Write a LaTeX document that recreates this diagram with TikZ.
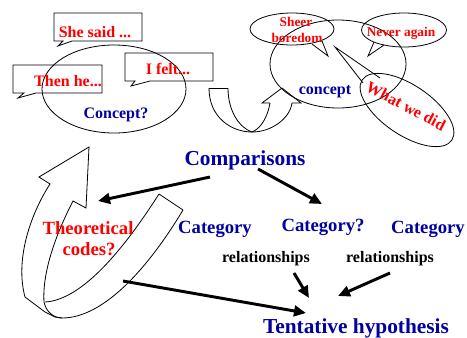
\documentclass[tikz,border=0pt]{standalone}
\usepackage{fontspec}
\setmainfont{Liberation Serif}
\usetikzlibrary{arrows.meta}
\definecolor{navy}{RGB}{0,0,160}

\begin{document}
\begin{tikzpicture}[x=0.75pt,y=-0.75pt,line width=0.6pt,
    redtxt/.style={text=red,inner sep=0pt,anchor=base},
    bluetxt/.style={text=navy,inner sep=0pt,anchor=base},
    blacktxt/.style={inner sep=0pt,anchor=base},
    big/.style={font=\bfseries\fontsize{16}{18}\selectfont},
    mid/.style={font=\bfseries\fontsize{14}{16}\selectfont},
    small/.style={font=\bfseries\fontsize{12}{14}\selectfont},
    tiny/.style={font=\bfseries\fontsize{10}{12}\selectfont},
    fat/.style={line width=2.2pt,-{Triangle[length=9pt,width=8pt]}}]
    \useasboundingbox (0,0) rectangle (467,337);
    % bubbles round Concept?
    \draw (54,13)--(142,13)--(142,41)--(72,41)--(58,46)--(63,41)--(54,41)--cycle;
    \draw (13,65)--(102,65)--(102,93)--(36,93)--(18,98)--(24,93)--(13,93)--cycle;
    \draw (125,53)--(213,53)--(213,81)--(150,81)--(131,86)--(135,81)--(125,81)--cycle;
    \draw (114,89) ellipse [x radius=72, y radius=44];
    % bubbles round concept
    \draw (292,29) ellipse [x radius=42, y radius=16];
    \draw (312,44)--(328,56)--(322,41);
    \draw (404,30) ellipse [x radius=42.5, y radius=17];
    \draw (374,42)--(368,56)--(384,45);
    \draw (338,64) ellipse [x radius=68, y radius=44];
    \draw[rotate around={-34:(407,110)}] (407,110) ellipse [x radius=54, y radius=25];
    \draw (363,83)--(335,47)--(380,78);
    % u-turn arrow
    \draw (209,88)--(228,88);
    \draw (209,88) .. controls (209,118) and (232,132) .. (252,132);
    \draw (228,88) .. controls (228,112) and (240,128) .. (252,132);
    \draw (252,132) .. controls (262,128) and (268,115) .. (270,103);
    \draw (252,132) .. controls (272,132) and (290,118) .. (292,103);
    \draw (270,103)--(262,103)--(282,88)--(301,103)--(292,103);
    % big curved arrow
    \draw (25,297) .. controls (15,260) and (30,215) .. (50,184)--(39,177)--(89,147)--(86,208)--(73,201)
        .. controls (58,230) and (42,270) .. (44,302) .. controls (46,312) and (54,318) .. (62,318);
    \draw (25,297)--(45,312)--(55,317)--(62,318);
    \draw (159,194)--(183,210);
    \draw (159,194) .. controls (120,255) and (80,300) .. (45,302);
    \draw (183,210) .. controls (150,265) and (105,318) .. (62,318);
    % texts
    \node[redtxt,small](she) at (95,37) {She said ...};
    \node[redtxt,small](then) at (68,86) {Then he...};
    \node[redtxt,small](felt) at (168,74) {I felt...};
    \node[bluetxt,small](cq) at (116,118) {Concept?};
    \node[bluetxt,small](cc) at (325,94) {concept};
    \node[redtxt,tiny](sb1) at (296,26) {Sheer};
    \node[redtxt,tiny](sb2) at (297,42) {boredom};
    \node[redtxt,tiny](nev) at (401,36) {Never again};
    \node[redtxt,small,anchor=center,rotate=-28](what) at (406,106) {What we did};
    \node[bluetxt,big](comp) at (245,165) {Comparisons};
    \node[redtxt,mid](th1) at (88,234) {Theoretical};
    \node[redtxt,mid](th2) at (89,255) {codes?};
    \node[bluetxt,mid](cat1) at (215,233) {Category};
    \node[bluetxt,mid](cat2) at (323,231) {Category?};
    \node[bluetxt,mid](cat3) at (428,233) {Category};
    \node[blacktxt,small](rel1) at (266,262) {relationships};
    \node[blacktxt,small](rel2) at (390,262) {relationships};
    \node[bluetxt,big](tent) at (356,333) {Tentative hypothesis};
    % arrows
    \coordinate (cl) at (210,177);
    \coordinate (cr) at (258,169);
    \coordinate (thin) at (98,201);
    \coordinate (catin) at (322,204);
    \coordinate (r1) at (294,273);
    \coordinate (r2) at (390,273);
    \coordinate (rib) at (123,281);
    \coordinate (t1) at (309,298);
    \coordinate (t2) at (338,296);
    \coordinate (t3) at (306,313);
    \draw[fat] (cl)--(thin);
    \draw[fat] (cr)--(catin);
    \draw[fat] (r1)--(t1);
    \draw[fat] (r2)--(t2);
    \draw[fat] (rib)--(t3);
\end{tikzpicture}
\end{document}
